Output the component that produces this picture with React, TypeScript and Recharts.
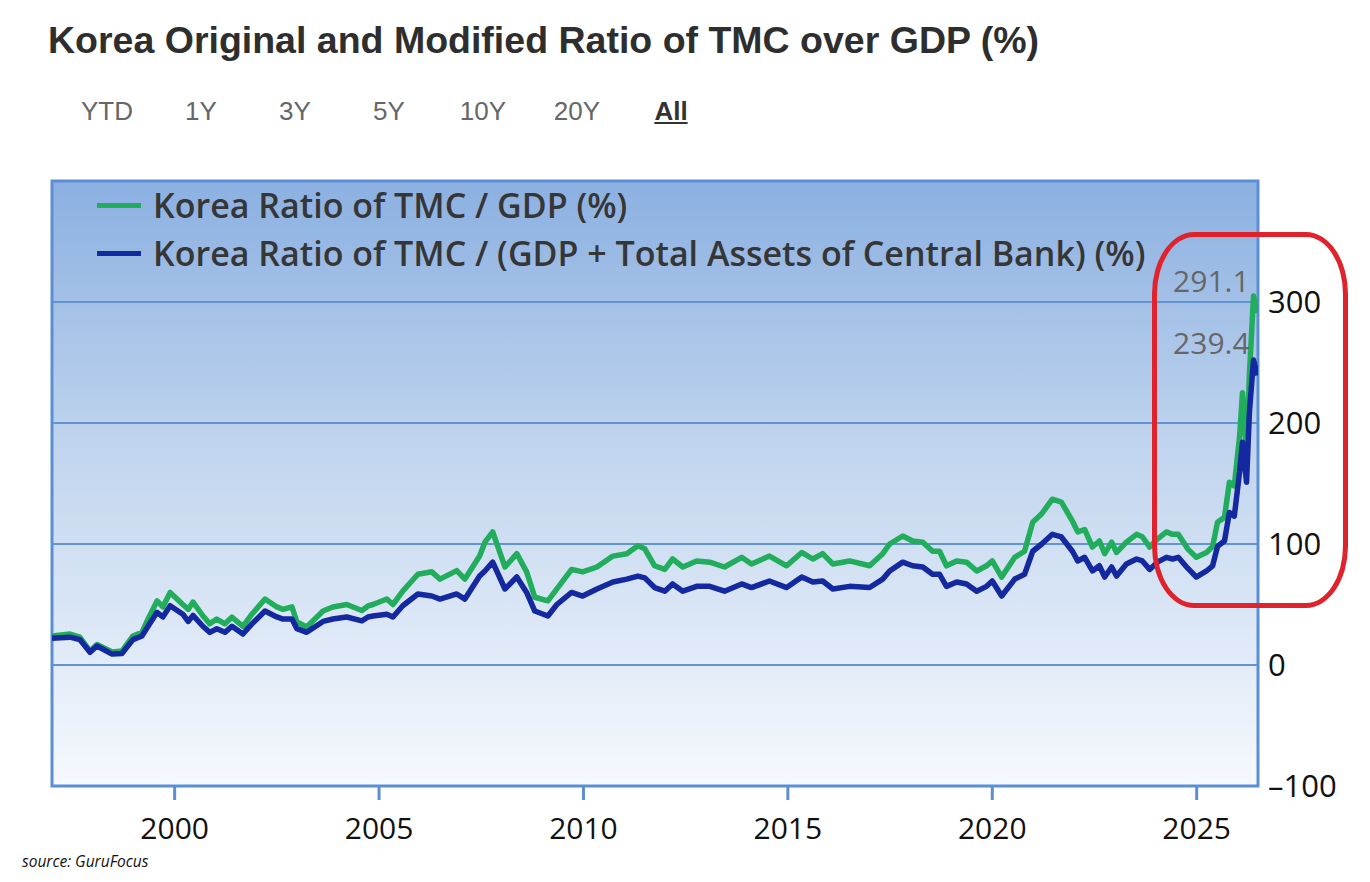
import React from "react";
import {
  LineChart,
  Line,
  XAxis,
  YAxis,
  CartesianGrid,
  ReferenceArea,
  Legend,
  LabelList,
} from "recharts";

// month-ish sample dates (decimal years)
const years = [
  1997.0, 1997.44, 1997.68, 1997.93, 1998.1, 1998.47, 1998.71, 1998.98, 1999.2, 1999.35,
  1999.57, 1999.71, 1999.89, 2000.2, 2000.33, 2000.45, 2000.69, 2000.86, 2001.03, 2001.23,
  2001.4, 2001.67, 2001.89, 2002.21, 2002.5, 2002.65, 2002.87, 2002.99, 2003.23, 2003.63,
  2003.87, 2004.21, 2004.58, 2004.73, 2004.85, 2005.19, 2005.34, 2005.58, 2005.95, 2006.29,
  2006.49, 2006.9, 2007.1, 2007.46, 2007.59, 2007.78, 2008.08, 2008.37, 2008.61, 2008.81,
  2009.13, 2009.35, 2009.71, 2009.98, 2010.33, 2010.72, 2011.06, 2011.33, 2011.5, 2011.74,
  2011.99, 2012.18, 2012.43, 2012.77, 2013.09, 2013.45, 2013.87, 2014.11, 2014.55, 2014.97,
  2015.34, 2015.61, 2015.85, 2016.1, 2016.51, 2017.0, 2017.32, 2017.49, 2017.81, 2018.05,
  2018.3, 2018.54, 2018.71, 2018.88, 2019.13, 2019.37, 2019.62, 2019.86, 2020.0, 2020.23,
  2020.55, 2020.79, 2020.99, 2021.21, 2021.47, 2021.69, 2021.96, 2022.09, 2022.26, 2022.45,
  2022.62, 2022.75, 2022.92, 2023.04, 2023.28, 2023.53, 2023.67, 2023.85, 2024.04, 2024.26,
  2024.41, 2024.55, 2024.78, 2024.99, 2025.24, 2025.39, 2025.51, 2025.68, 2025.8, 2025.92,
  2026.05, 2026.12, 2026.22, 2026.29, 2026.39, 2026.49,
];

// Korea TMC / GDP (%)
const tmcGdp = [
  24, 25.6, 23, 11.5, 17, 10.7, 11.5, 24, 27, 38,
  53, 48, 60, 50, 46, 52, 40.7, 34, 38, 34,
  39.5, 32, 42, 54.5, 48, 46, 48, 35.5, 31.4, 44.6,
  48, 50, 45, 48.8, 50, 54.5, 50, 61, 75, 77,
  71, 78, 71, 90, 101.5, 110, 81, 92, 77, 56,
  53, 63, 79, 77, 81, 90, 92, 98.5, 96, 82,
  79, 87.6, 81, 86, 85, 81, 89, 83.5, 90, 82,
  93, 87.6, 92, 83.5, 86, 82, 92, 100, 106.6, 102.5,
  101.5, 94, 94, 82, 86, 85, 77.7, 82, 86, 72.7,
  89, 94, 118, 125, 137, 134.7, 119, 110, 112, 97.5,
  102.5, 92, 101.5, 93, 101.5, 108, 106, 97.5, 104, 110,
  108, 108, 96, 89, 93, 98, 118, 122, 151, 148,
  189, 225, 175, 240, 305, 291.1,
];

// Korea TMC / (GDP + central bank total assets) (%)
const tmcGdpCb = [
  22, 23, 21, 10.5, 15.7, 9, 9.5, 21, 24, 32,
  43.5, 39.7, 49, 42, 36, 41, 32, 27, 30, 27,
  32, 25.6, 34, 44.6, 39.7, 38, 38, 30, 27, 36,
  38, 39.7, 36.5, 39.7, 40.5, 42, 39.7, 49, 58.7, 57,
  54.5, 58.7, 54.5, 73.5, 77.7, 85, 62.8, 72.7, 60, 44.6,
  40.5, 50, 60, 57, 62.8, 68.6, 71, 73.5, 72, 64,
  61, 67, 61, 65, 65, 61, 67, 64, 69.4, 64,
  72.7, 68.6, 69.4, 62.8, 65, 64, 71, 77.7, 85, 82,
  81, 75, 75, 65, 68.6, 67, 61, 65, 69.4, 57,
  71, 75, 94, 100, 108, 105.8, 94, 86, 89, 77.7,
  82, 72.7, 81, 73.5, 83.5, 87.6, 86, 79, 85, 89,
  87.6, 89, 80, 72.7, 77.7, 82, 98, 102.5, 126, 123,
  159.5, 184, 151, 209, 252, 239.4,
];

const seriesNames = [
  "Korea Ratio of TMC / GDP (%)",
  "Korea Ratio of TMC / (GDP + Total Assets of Central Bank) (%)",
];
const xTicks = [2000, 2005, 2010, 2015, 2020, 2025];
const yTicks = [-100, 0, 100, 200, 300];
const ranges = ["YTD", "1Y", "3Y", "5Y", "10Y", "20Y", "All"];

const data = years.map((t, i) => ({ t, g: tmcGdp[i], c: tmcGdpCb[i] }));

const GREEN = "#22ad5c";
const NAVY = "#1429a0";
const FRAME = "#5b8fd4";
const FONT = "'Open Sans', sans-serif";

const lastValueLabel = (count: number) => (props: any) => {
  const { x, y, index, value } = props;
  if (index !== count - 1) return null;
  return (
    <text x={x - 8} y={y - 21} textAnchor="end" fill="#666" fontSize={30} fontFamily={FONT}>
      {Number(value).toFixed(1)}
    </text>
  );
};

// keep legend rows in series order
const renderLegend = (props: any) => {
  const items = [...(props.payload || [])].sort(
    (a: any, b: any) => seriesNames.indexOf(a.value) - seriesNames.indexOf(b.value)
  );
  return (
    <div style={{ fontFamily: FONT }}>
      {items.map((p: any) => (
        <div key={p.value} style={{ display: "flex", alignItems: "center", height: 48 }}>
          <span style={{ width: 44, height: 5, background: p.color, marginRight: 12 }} />
          <span style={{ fontSize: 34, fontWeight: 600, color: "#363636", whiteSpace: "nowrap" }}>
            {p.value}
          </span>
        </div>
      ))}
    </div>
  );
};

export default function App() {
  return (
    <div style={{ position: "absolute", left: 0, top: 0, width: 1370, height: 882, background: "#fff" }}>
      <div
        style={{
          position: "absolute",
          left: 48,
          top: 22,
          fontFamily: "'Liberation Sans', Arial, sans-serif",
          fontWeight: 700,
          fontSize: 37.5,
          lineHeight: 1,
          color: "#2e2e2e",
          whiteSpace: "nowrap",
        }}
      >
        Korea Original and Modified Ratio of TMC over GDP (%)
      </div>

      <div style={{ position: "absolute", left: 60, top: 96, display: "flex" }}>
        {ranges.map((r) => (
          <div
            key={r}
            style={{
              width: 94,
              textAlign: "center",
              fontFamily: "'Liberation Sans Narrow', 'Liberation Sans', sans-serif",
              fontSize: 26,
              lineHeight: "30px",
              color: r === "All" ? "#333" : "#666",
              fontWeight: r === "All" ? 700 : 400,
              textDecoration: r === "All" ? "underline" : "none",
            }}
          >
            {r}
          </div>
        ))}
      </div>

      <div style={{ position: "absolute", left: 0, top: 0 }}>
        <LineChart width={1370} height={882} data={data} margin={{ top: 181, left: 52, right: 12, bottom: 36 }}>
          <defs>
            <linearGradient id="plotBg" x1="0" y1="0" x2="0" y2="1">
              <stop offset="0%" stopColor="#8bb0e1" />
              <stop offset="45%" stopColor="#c1d5ee" />
              <stop offset="100%" stopColor="#f6f9fe" />
            </linearGradient>
          </defs>
          <CartesianGrid vertical={false} stroke="#6493d2" strokeWidth={2} fill="url(#plotBg)" />
          <XAxis
            type="number"
            dataKey="t"
            domain={[1997, 2026.5]}
            ticks={xTicks}
            allowDataOverflow
            axisLine={false}
            tickLine={{ stroke: FRAME, strokeWidth: 3 }}
            tickSize={14}
            tickMargin={18}
            height={60}
            tick={{ fill: "#111", fontSize: 30, fontFamily: FONT }}
          />
          <YAxis
            orientation="right"
            domain={[-100, 400]}
            ticks={yTicks}
            allowDataOverflow
            axisLine={false}
            tickLine={false}
            tickSize={0}
            tickMargin={10}
            width={100}
            tick={{ fill: "#111", fontSize: 31, fontFamily: FONT }}
            tickFormatter={(v: number) => (v < 0 ? `\u2013${Math.abs(v)}` : `${v}`)}
          />
          <ReferenceArea
            x1={1997}
            x2={2026.5}
            y1={-100}
            y2={400}
            fill="none"
            stroke={FRAME}
            strokeWidth={3}
            ifOverflow="visible"
          />
          <Legend
            layout="vertical"
            align="center"
            verticalAlign="middle"
            content={renderLegend}
            wrapperStyle={{ top: 181, left: 97, width: "auto" }}
          />
          <Line
            type="linear"
            dataKey="g"
            name={seriesNames[0]}
            stroke={GREEN}
            strokeWidth={5.5}
            strokeLinejoin="round"
            dot={false}
            isAnimationActive={false}
          >
            <LabelList dataKey="g" content={lastValueLabel(tmcGdp.length)} />
          </Line>
          <Line
            type="linear"
            dataKey="c"
            name={seriesNames[1]}
            stroke={NAVY}
            strokeWidth={5.5}
            strokeLinejoin="round"
            dot={false}
            isAnimationActive={false}
          >
            <LabelList dataKey="c" content={lastValueLabel(tmcGdpCb.length)} />
          </Line>
        </LineChart>
      </div>

      <div
        style={{
          position: "absolute",
          left: 1152,
          top: 232,
          width: 186,
          height: 366,
          border: "5px solid #e0222c",
          borderRadius: "42px / 62px",
        }}
      />

      <div
        style={{
          position: "absolute",
          left: 22,
          top: 850,
          fontFamily: FONT,
          fontStyle: "italic",
          fontSize: 15.5,
          color: "#111",
        }}
      >
        source: GuruFocus
      </div>
    </div>
  );
}
